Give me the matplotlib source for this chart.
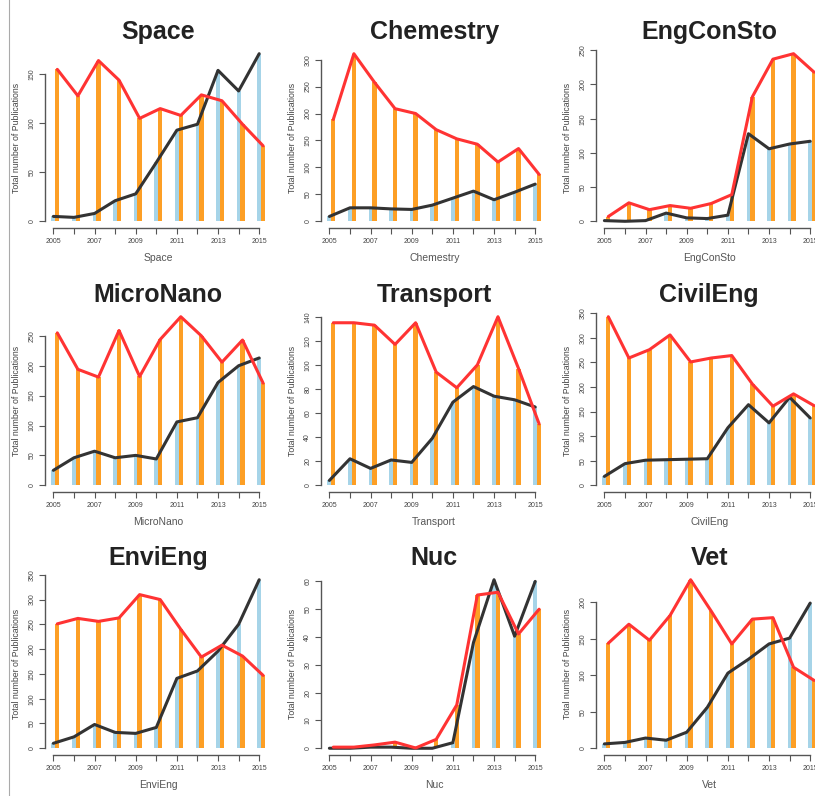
import matplotlib
matplotlib.use('Agg')
import matplotlib.pyplot as plt
import numpy as np
from matplotlib.lines import Line2D

plt.rcParams['font.family'] = ['Liberation Sans', 'DejaVu Sans']

years = list(range(2005, 2016))
year_labels = ['2005', '', '2007', '', '2009', '', '2011', '', '2013', '', '2015']

titles = ['Space', 'Chemestry', 'EngConSto',
          'MicroNano', 'Transport', 'CivilEng',
          'EnviEng', 'Nuc', 'Vet']

# blue bars / black line
space_blue = [5, 4, 8, 21, 28, 60, 93, 99, 154, 133, 171]
chem_blue = [9, 25, 25, 23, 22, 30, 43, 56, 40, 54, 69]
engcon_blue = [1, 0, 1, 12, 5, 4, 9, 128, 106, 113, 117]
micro_blue = [25, 46, 57, 46, 50, 44, 106, 113, 172, 200, 213]
trans_blue = [4, 22, 14, 21, 19, 39, 69, 82, 74, 71, 65]
civil_blue = [18, 44, 51, 52, 53, 54, 117, 164, 127, 179, 137]
envi_blue = [10, 23, 48, 32, 30, 42, 141, 156, 196, 250, 340]
nuc_blue = [0, 0, 0.4, 0.4, 0, 0, 2, 38, 60.6, 40.3, 60]
vet_blue = [6, 8, 14, 11, 22, 56, 103, 122, 143, 151, 199]

# orange bars / red line
space_orange = [155, 128, 164, 144, 105, 115, 108, 129, 123, 99, 77]
chem_orange = [189, 311, 258, 209, 200, 170, 153, 143, 110, 135, 87]
engcon_orange = [7, 27, 17, 23, 19, 26, 39, 182, 237, 245, 218]
micro_orange = [255, 194, 181, 259, 182, 244, 282, 250, 206, 243, 171]
trans_orange = [135, 135, 133, 117, 135, 94, 81, 100, 140, 97, 51]
civil_orange = [343, 259, 276, 306, 251, 259, 264, 206, 161, 186, 162]
envi_orange = [251, 262, 256, 263, 310, 300, 240, 184, 208, 186, 147]
nuc_orange = [0.4, 0.4, 1.2, 2.2, 0.1, 3.2, 15.6, 55.1, 56.1, 41.1, 50]
vet_orange = [144, 170, 148, 182, 231, 188, 143, 177, 179, 111, 93]

y_ticks = [[0, 50, 100, 150],
           [0, 50, 100, 150, 200, 250, 300],
           [0, 50, 100, 150, 200, 250],
           [0, 50, 100, 150, 200, 250],
           [0, 20, 40, 60, 80, 100, 120, 140],
           [0, 50, 100, 150, 200, 250, 300, 350],
           [0, 50, 100, 150, 200, 250, 300, 350],
           [0, 10, 20, 30, 40, 50, 60],
           [0, 50, 100, 150, 200]]

blues = [space_blue, chem_blue, engcon_blue, micro_blue, trans_blue,
         civil_blue, envi_blue, nuc_blue, vet_blue]
oranges = [space_orange, chem_orange, engcon_orange, micro_orange, trans_orange,
           civil_orange, envi_orange, nuc_orange, vet_orange]

W, H = 815, 796
fig = plt.figure(figsize=(W / 100, H / 100), dpi=100)

col_left = [45, 321, 596]
ax_w = 226.5
row_tb = [(47, 228), (310, 492), (573, 755)]

BLUE = '#a6d4e8'
ORANGE = '#fd9f25'
RED = '#ff3333'
BLACK = '#333333'
GRAY = '#555555'
off = 0.19

for i in range(9):
    r, c = divmod(i, 3)
    top, bot = row_tb[r]
    left = col_left[c]
    ax = fig.add_axes([left / W, 1 - bot / H, ax_w / W, (bot - top) / H])
    x = np.array(years, dtype=float)
    b = blues[i]
    o = oranges[i]
    m = max(max(b), max(o))
    ax.bar(x, b, width=0.19, color=BLUE, zorder=1)
    ax.bar(x + off, o, width=0.21, color=ORANGE, zorder=2)
    ax.plot(x, b, color=BLACK, lw=2.2, zorder=3, solid_capstyle='round')
    ax.plot(x + off, o, color=RED, lw=2.2, zorder=4, solid_capstyle='round')
    span = 10 + off
    ax.set_xlim(2005 - 0.04 * span, 2005 + span + 0.04 * span)
    ax.set_ylim(-0.04 * m, 1.04 * m)
    for s in ['top', 'right']:
        ax.spines[s].set_visible(False)
    ax.spines['left'].set_bounds(0, y_ticks[i][-1])
    ax.spines['bottom'].set_bounds(2005, 2015)
    for s in ['left', 'bottom']:
        ax.spines[s].set_color(GRAY)
        ax.spines[s].set_linewidth(1.0)
    ax.set_xticks(years)
    ax.set_xticklabels(year_labels)
    ax.set_yticks(y_ticks[i])
    ax.set_yticklabels([str(t) for t in y_ticks[i]], rotation=90, va='center')
    ax.tick_params(axis='both', direction='out', length=4, width=0.8,
                   colors=GRAY, labelsize=5, labelcolor='#444444', pad=3)
    ax.set_xlabel(titles[i], fontsize=7.5, color='#555555', labelpad=6)
    ax.set_ylabel('Total number of Publications', fontsize=6.3, color='#444444', labelpad=5)
    ax.set_title(titles[i], fontsize=18, fontweight='bold', color='#222222', pad=6)

fig.add_artist(Line2D([9 / W, 9 / W], [0, 1], color='#aaaaaa', lw=0.8))

fig.savefig('out.png', dpi=100)
